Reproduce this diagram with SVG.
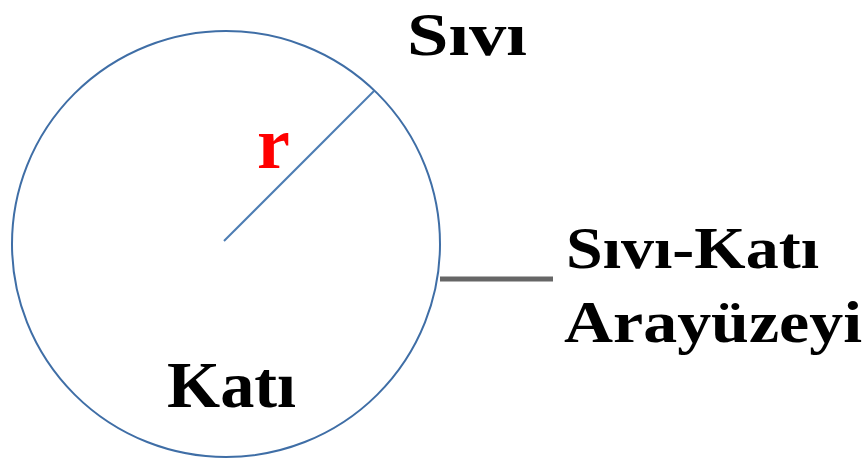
<svg xmlns="http://www.w3.org/2000/svg" width="866" height="463" viewBox="0 0 866 463">
<style>
.lbl{font-family:"Liberation Serif","Times New Roman",serif;font-weight:bold;fill:#000}
</style>
<rect width="866" height="463" fill="#fff"/>
<g id="solid">
<ellipse cx="226" cy="244" rx="214" ry="213" fill="none" stroke="#3f6ea6" stroke-width="2"/>
<text class="lbl" x="167" y="407" font-size="66" textLength="129" lengthAdjust="spacingAndGlyphs">Katı</text>
</g>
<g id="radius">
<line x1="224" y1="241" x2="374" y2="91" stroke="#4d7db3" stroke-width="2"/>
<text x="257" y="168" font-family="Liberation Serif,serif" font-weight="bold" font-size="74" fill="#ff0000">r</text>
</g>
<g id="liquid">
<text class="lbl" x="407" y="55" font-size="61" textLength="120" lengthAdjust="spacingAndGlyphs">Sıvı</text>
</g>
<g id="connectors">
<line x1="440" y1="279" x2="553" y2="279" stroke="#666" stroke-width="5"/>
</g>
<g id="interface">
<text class="lbl" x="566" y="268" font-size="60" textLength="253" lengthAdjust="spacingAndGlyphs">Sıvı-Katı</text>
<text class="lbl" x="564" y="342" font-size="60" textLength="298" lengthAdjust="spacingAndGlyphs">Arayüzeyi</text>
</g>
</svg>
